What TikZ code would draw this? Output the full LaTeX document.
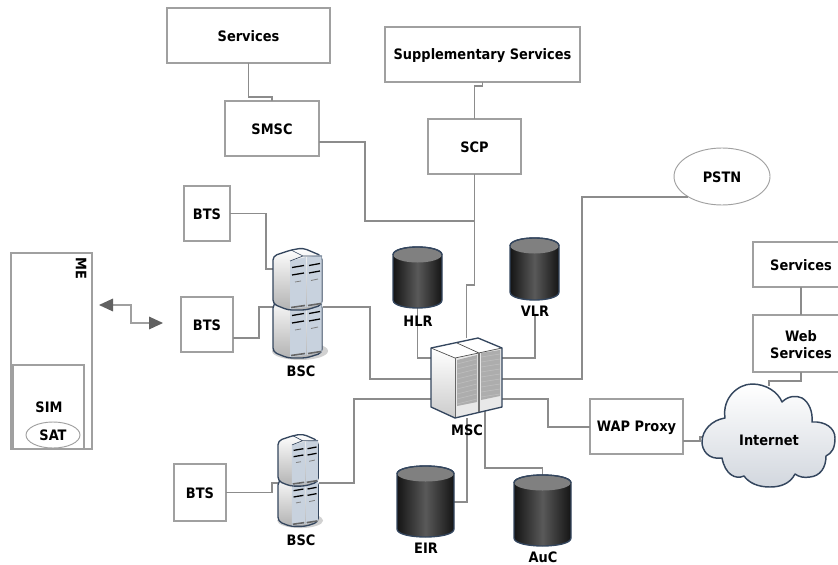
\documentclass[tikz,border=0pt]{standalone}
\usepackage{fontspec}
\setmainfont{DejaVu Sans Condensed Bold}
\usetikzlibrary{arrows.meta,shapes.geometric}
\definecolor{lnc}{HTML}{8C8C8C}
\definecolor{bdc}{HTML}{A0A0A0}
\definecolor{navy}{HTML}{34465E}
\definecolor{panelc}{HTML}{C8D2DE}
\definecolor{cloudb}{HTML}{D2D7DE}
\tikzset{
  pbox/.style={draw=bdc,line width=.8pt,fill=white,inner sep=0pt,outer sep=0pt,align=center,font=\fontsize{10.8}{15}\selectfont},
  ghost/.style={inner sep=0pt,outer sep=0pt},
  conn/.style={draw=lnc,line width=.8pt},
  lbl/.style={inner sep=0pt,font=\fontsize{10.8}{13}\selectfont},
  oval/.style={draw=bdc,line width=.7pt,fill=white,ellipse,inner sep=0pt,outer sep=0pt},
  iconline/.style={draw=navy,line width=1pt,line join=round},
}
\newcommand\low[1]{\raisebox{-.8pt}[\height][\depth]{#1}}
\newcommand\bx[7][pbox]{\node[#1,minimum width={(#4-#2)*.75pt},minimum height={(#5-#3)*.75pt}] (#6) at ({(#2+#4)/2},{(#3+#5)/2}) {\low{#7}};}
% rack icon, local size 50 x 112
\newcommand\rackunit[1]{%
  \begin{scope}[yshift={#1*-.75pt}]
    \path[iconline,top color=white,bottom color=black!30,rounded corners=3pt]
      (0,8) -- (18,2) -- (30,0) -- (49,8) -- (49,57) -- (33,62) -- (15,62) -- (0,56) -- cycle;
    \fill[panelc] (17,13) -- (33,9) -- (33,59) -- (17,61) -- cycle;
    \fill[panelc] (34,9) -- (48.5,7) -- (48.5,56) -- (34,59) -- cycle;
    \draw[black,line width=.95pt] (19,19.5) -- (31,17.5) (19,27) -- (31,25) (36,17.5) -- (47,15.5) (36,25) -- (47,23);
    \draw[gray,line width=.6pt] (22,34) -- (28,33) (38,32.5) -- (45,31);
    \draw[black!60,line width=1.2pt] (18,59.5) -- (32,57.5) (35,57.5) -- (48,55.5);
    \draw[navy,line width=.5pt] (17,13) -- (30,8) -- (49,8) (30,8) -- (18,2);
  \end{scope}}
\newcommand\rackicon[4]{%
  \begin{scope}[shift={(#1,#2)},xscale=#3,yscale=#4]
    \fill[black!18] (27,103) ellipse [x radius=28,y radius=9];
    \rackunit{48}\rackunit{0}
  \end{scope}}
\newcommand\cyl[4]{%  x y w h
  \begin{scope}[shift={(#1,#2)}]
    \pgfmathsetmacro\ce{8}
    \pgfmathsetmacro\cbot{#4-\ce}
    \pgfmathsetmacro\cctl{#4+\ce/3}
    \path[iconline,left color=black!92,right color=black!92,middle color=black!65]
      (0,\ce) -- (0,\cbot) .. controls (0,\cctl) and (#3,\cctl) .. (#3,\cbot) -- (#3,\ce)
      .. controls (#3,-2.67) and (0,-2.67) .. cycle;
    \fill[black!50] ({#3/2},\ce) ellipse [x radius={#3/2-.5},y radius=7.5];
    \draw[iconline] (0,\ce) .. controls (0,-2.67) and (#3,-2.67) .. (#3,\ce);
  \end{scope}}
\begin{document}
\begin{tikzpicture}[x=.75pt,y=-.75pt]
\useasboundingbox (0,0) rectangle (838,564);
\clip (0,0) rectangle (838,564);
% boxes
\bx{167}{8}{330}{63}{svc1}{Services}
\bx{225}{101}{319}{156}{smsc}{SMSC}
\bx{385}{27}{580}{82}{supp}{Supplementary Services}
\bx{428}{119}{521}{174}{scp}{SCP}
\bx{184}{186}{230}{241}{bts1}{BTS}
\bx{181}{297}{233}{352}{bts2}{BTS}
\bx{174}{464}{226}{521}{bts3}{BTS}
\bx{590}{399}{683}{454}{wap}{WAP Proxy}
\bx{753}{242}{849}{287}{svc2}{Services}
\bx{753}{315}{849}{372}{web}{\shortstack[c]{Web\\[2pt]Services}}
\bx{11}{253}{92}{449}{me}{}
\bx{13}{365}{84}{449}{sim}{}
\node[oval,minimum width=72pt,minimum height=42.75pt,font=\fontsize{10.8}{13}\selectfont] (pstn) at (722,176.5) {\low{PSTN}};
% icon footprints
\bx[ghost]{273}{248}{323}{360}{bsc1}{}
\bx[ghost]{278}{434}{319}{528}{bsc2}{}
\bx[ghost]{431}{338}{502}{418}{msc}{}
\bx[ghost]{393}{247}{442}{308}{hlr}{}
\bx[ghost]{510}{238}{559}{300}{vlr}{}
\bx[ghost]{397}{466}{454}{537}{eir}{}
\bx[ghost]{514}{475}{571}{546}{auc}{}
\bx[ghost]{702}{384}{835}{487}{inet}{}
\coordinate (airL) at (99,305);
\coordinate (airR) at (163,323);
% connectors
\draw[conn] (svc1.south) -- ++(0,34) -| (smsc.north);
\draw[conn] (supp.south) -- ++(0,4) -| (scp.north);
\draw[conn] (smsc.east |- 0,142) -| (365,221) -- (scp.south |- 0,221);
\draw[conn] (scp.south) -- (474.5,285) -| (msc.north);
\draw[conn] (hlr.south) |- (msc.west |- 0,358);
\draw[conn] (535,316) |- (msc.east |- 0,358);
\draw[conn] (bts1.east) -| (266,269) -- (bsc1.west |- 0,269);
\draw[conn] (bts2.east |- 0,338) -| (259,307) -- (bsc1.west |- 0,307);
\draw[conn] (bsc1.east |- 0,307) -| (370,379) -- (msc.west |- 0,379);
\draw[conn] (bts3.east) -| (272,483) -- (bsc2.west |- 0,483);
\draw[conn] (bsc2.east |- 0,483) -| (354,399) -- (msc.west |- 0,399);
\draw[conn] (msc.east |- 0,379) -| (582,197) -- (pstn.south west |- 0,197);
\draw[conn] (msc.east |- 0,399) -| (548,427) -- (wap.west |- 0,427);
\draw[conn] (wap.east |- 0,441) -- (700,441) -- (700,437) -- (inet.west |- 0,437);
\draw[conn] (svc2.south) -- (web.north);
\draw[conn] (web.south) -- ++(0,9) -| (769,386);
\draw[conn] (467,418) |- (eir.east |- 0,502);
\draw[conn] (485,410) -- (485,468) -| (auc.north);
\draw[draw=bdc,line width=.9pt,{Triangle[length=10.5pt,width=9.5pt,color=black!62]}-{Triangle[length=10.5pt,width=9.5pt,color=black!62]}] (airL) -- (131,305) -- (131,323) -- (airR);
% racks
\rackicon{273}{248}{1}{1}
\rackicon{278}{434}{.82}{.84}
% databases
\cyl{393}{247}{49}{61}
\cyl{510}{238}{49}{62}
\cyl{397}{466}{57}{71}
\cyl{514}{475}{57}{71}
% MSC
\path[fill=white] (431,348) -- (478,338) -- (502,348) -- (455,358) -- cycle;
\path[top color=white,bottom color=black!20] (431,348) -- (455,358) -- (455,418) -- (431,407) -- cycle;
\path[fill=black!9] (455,358) -- (502,348) -- (502,407) -- (455,418) -- cycle;
\fill[black!32] (457,360) -- (477,355) -- (477,402) -- (457,406) -- cycle;
\fill[black!32] (481,353) -- (500,350) -- (500,396) -- (481,400) -- cycle;
\foreach \d in {0,5,...,40}{
  \draw[white!75!black,line width=.4pt] (457,{364+\d}) -- (477,{359+\d});
  \draw[white!75!black,line width=.4pt] (481,{357+\d}) -- (500,{354+\d});
}
\draw[black!70,line width=.5pt] (431,348) -- (455,358) -- (502,348) (457,343) -- (479,353);
\draw[black!55,line width=1pt] (479,353) -- (479,413);
\draw[black!60,line width=.5pt] (455,358) -- (455,418);
\draw[iconline] (431,348) -- (478,338) -- (502,348) -- (502,407) -- (455,418) -- (431,407) -- cycle;
% cloud
\path[iconline,line width=1.1pt,top color=white,bottom color=cloudb]
 (725,418) .. controls (722,398) and (738,384) .. (752,384)
 .. controls (766,384) and (778,392) .. (782,402)
 .. controls (788,396) and (796,395) .. (802,398)
 .. controls (809,402) and (813,412) .. (812,422)
 .. controls (825,421) and (835,428) .. (835,438)
 .. controls (835,448) and (832,453) .. (826,456)
 .. controls (826,468) and (820,476) .. (810,477)
 .. controls (804,478) and (799,477) .. (795,474)
 .. controls (790,484) and (780,487) .. (770,487)
 .. controls (758,487) and (749,483) .. (744,476)
 .. controls (735,480) and (725,474) .. (722,458)
 .. controls (708,460) and (702,450) .. (702,442)
 .. controls (702,430) and (712,420) .. (725,418) -- cycle;
% labels
\node[lbl] (inettxt) at (769,440.5) {Internet};
\node[lbl] (bsc1txt) at (301,371.5) {BSC};
\node[lbl] (bsc2txt) at (301,540) {BSC};
\node[lbl] (msctxt) at (467,430) {MSC};
\node[lbl] (hlrtxt) at (418,321) {HLR};
\node[lbl] (vlrtxt) at (535,311) {VLR};
\node[lbl] (eirtxt) at (426,548) {EIR};
\node[lbl] (auctxt) at (543,557) {AuC};
\node[lbl,rotate=-90] (metxt) at (81,268) {ME};
\node[lbl] (simtxt) at (49,407) {SIM};
\node[oval,minimum width=40.5pt,minimum height=19.5pt,font=\fontsize{10.8}{13}\selectfont] (sat) at (53,435) {SAT};
\end{tikzpicture}
\end{document}
